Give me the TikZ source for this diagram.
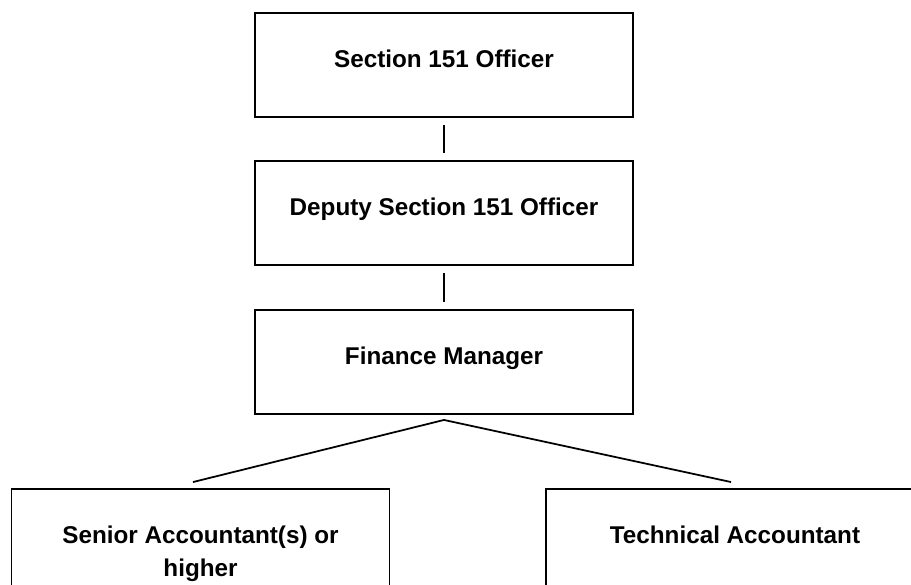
\documentclass[tikz,border=0pt]{standalone}
\usepackage{fontspec}
\setmainfont{Liberation Sans}
\usetikzlibrary{calc}

\begin{document}
\begin{tikzpicture}[
    % GLOBAL CFG
    font={\bfseries\fontsize{13.8}{18.8}\selectfont},
    % Styles
    post/.style={% For the boxes of the chart
        rectangle,
        draw,
        line width=1.1pt,
        minimum width=7.56cm,
        minimum height=2.08cm,
        align=center,
        text height=0.35cm,
        text depth=0.25cm,
        },
    link/.style={% For the lines between the boxes
        line width=1pt,
        shorten <=0.14cm,
        shorten >=0.14cm,
        },
    ]

    % Page size
    \useasboundingbox (0,0) rectangle (18.22,-11.70);

    % Draw the posts, top to bottom
    \node [post] (off151) at (8.88,-1.30) {Section 151 Officer};
    \node [post] (deputy) at (8.88,-4.26) {Deputy Section 151 Officer};
    \node [post] (finmgr) at (8.88,-7.24) {Finance Manager};
    \node [post, text height=1.52cm, text depth=0.1cm] (senior) at (4.01,-10.82) {Senior Accountant(s) or\\higher}; % two lines, keep first line up
    \node [post] (tech) at (14.70,-10.82) {Technical Accountant};

    % Draw the links
    \draw [link] (off151) -- (deputy);
    \draw [link] (deputy) -- (finmgr);

    % Fork under the finance manager
    \coordinate (fork) at ([yshift=-0.1cm]finmgr.south);
    \draw [line width=1pt] ([shift={(-0.15,0.12)}]senior.north) -- (fork) -- ([shift={(-0.08,0.12)}]tech.north);

\end{tikzpicture}
\end{document}
